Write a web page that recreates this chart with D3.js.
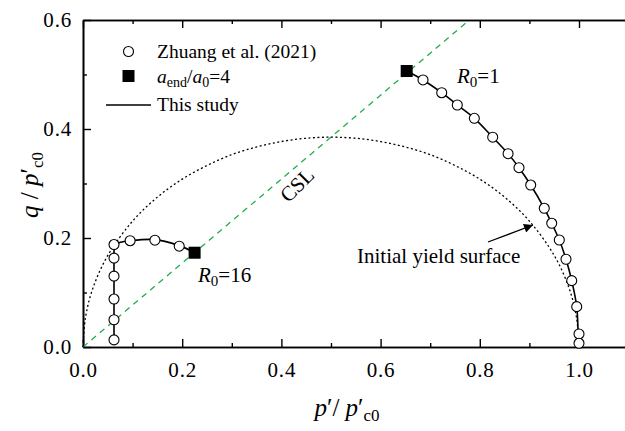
<!DOCTYPE html>
<html><head><meta charset="utf-8">
<script src="https://cdn.jsdelivr.net/npm/d3@7"></script>
<style>
body{margin:0;background:#fff;font-family:'Liberation Serif',serif;}
#c text, #c tspan{font-family:'Liberation Serif',serif;}
</style>
</head>
<body>
<svg id="c" width="625" height="431" style="display:block"></svg>
<script>
// ---- data ----
const xMajor=[0,0.2,0.4,0.6,0.8,1.0];
const xMinor=[0.1,0.3,0.5,0.7,0.9];
const yMajor=[0,0.2,0.4,0.6];
const yMinor=[0.1,0.3,0.5];
// Zhuang et al. (2021), R0=16
const expP16=[0.0625,0.0625,0.0625,0.0625,0.0625,0.0625,0.095,0.145,0.194];
const expQ16=[0.013,0.050,0.088,0.130,0.163,0.188,0.195,0.196,0.185];
// Zhuang et al. (2021), R0=1
const expP1=[0.6855,0.7232,0.7546,0.789,0.826,0.857,0.879,0.9026,0.930,0.945,0.9603,0.9738,0.9853,0.9954,1.0,1.0];
const expQ1=[0.490,0.4666,0.444,0.4196,0.385,0.3547,0.329,0.2972,0.2545,0.227,0.1963,0.161,0.1217,0.074,0.0239,0.0068];
// a_end/a0 = 4 points
const endP=[0.225,0.6526];
const endQ=[0.173,0.5064];
// This study, R0=16
const simP16=[0.0625,0.0625,0.0625,0.0625,0.063,0.066,0.075,0.095,0.145,0.194,0.225];
const simQ16=[0.013,0.06,0.12,0.16,0.180,0.188,0.192,0.195,0.197,0.186,0.173];
// This study, R0=1
const simP1=[0.6526,0.6855,0.7232,0.7546,0.789,0.826,0.857,0.879,0.9026,0.930,0.945,0.9603,0.9738,0.9853,0.9954,0.998,0.999];
const simQ1=[0.5064,0.490,0.4666,0.444,0.4196,0.385,0.3547,0.329,0.2972,0.2545,0.227,0.1963,0.161,0.1217,0.074,0.03,0.0];
// Initial yield surface
const ysP=[0,0.005,0.02,0.05,0.1,0.15,0.2,0.25,0.3,0.35,0.4,0.45,0.5,0.55,0.6,0.65,0.7,0.75,0.8,0.85,0.9,0.95,0.98,0.995,1.0];
const ysQ=[0,0.054,0.108,0.168,0.231,0.275,0.308,0.333,0.353,0.367,0.377,0.383,0.385,0.383,0.377,0.367,0.353,0.333,0.308,0.275,0.231,0.168,0.108,0.054,0];
// CSL
const cslP=[0,0.779];
const cslQ=[0,0.6];

// ---- chart ----
const FONT="'Liberation Serif', serif";
const svg=d3.select("#c");
const x=d3.scaleLinear().domain([0,1.1]).range([83,628.6]);
const y=d3.scaleLinear().domain([0,0.6]).range([347,20]);
const zip=(a,b)=>a.map((v,i)=>[v,b[i]]);
const line=d3.line().x(d=>x(d[0])).y(d=>y(d[1]));

function styleAxis(g){
  g.attr("font-family",null);
  g.selectAll(".domain").attr("stroke","#000").attr("stroke-width",1.6);
  g.selectAll(".tick line").attr("stroke","#000").attr("stroke-width",1.4);
  g.selectAll("text").style("font-family",FONT).attr("font-size",21).attr("letter-spacing","0.8px").attr("fill","#000");
}
// bottom
let g=svg.append("g").attr("transform","translate(0,347)")
  .call(d3.axisBottom(x).tickValues(xMajor).tickSize(-8).tickSizeOuter(0).tickPadding(15).tickFormat(d3.format(".1f")));
styleAxis(g);
g=svg.append("g").attr("transform","translate(0,347)")
  .call(d3.axisBottom(x).tickValues(xMinor).tickSize(-4).tickSizeOuter(0).tickFormat(""));
styleAxis(g);
// top
g=svg.append("g").attr("transform","translate(0,20)")
  .call(d3.axisTop(x).tickValues(xMajor).tickSize(-8).tickSizeOuter(0).tickFormat(""));
styleAxis(g);
g=svg.append("g").attr("transform","translate(0,20)")
  .call(d3.axisTop(x).tickValues(xMinor).tickSize(-4).tickSizeOuter(0).tickFormat(""));
styleAxis(g);
// left
g=svg.append("g").attr("transform","translate(83,0)")
  .call(d3.axisLeft(y).tickValues(yMajor).tickSize(-8).tickSizeOuter(0).tickPadding(11).tickFormat(d3.format(".1f")));
styleAxis(g);
g=svg.append("g").attr("transform","translate(83,0)")
  .call(d3.axisLeft(y).tickValues(yMinor).tickSize(-4).tickSizeOuter(0).tickFormat(""));
styleAxis(g);

// CSL
svg.append("path").attr("d",line(zip(cslP,cslQ))).attr("fill","none")
  .attr("stroke","#1fae4a").attr("stroke-width",1.3).attr("stroke-dasharray","6,5");
// yield surface
svg.append("path").attr("d",line.curve(d3.curveCatmullRom)(zip(ysP,ysQ))).attr("fill","none")
  .attr("stroke","#000").attr("stroke-width",1.3).attr("stroke-dasharray","2,2.5");
// simulations
const simLine=d3.line().x(d=>x(d[0])).y(d=>y(d[1])).curve(d3.curveCatmullRom);
[zip(simP16,simQ16),zip(simP1,simQ1)].forEach(d=>{
  svg.append("path").attr("d",simLine(d)).attr("fill","none").attr("stroke","#000").attr("stroke-width",1.6);
});
// experimental circles
svg.append("g").selectAll("circle").data(zip(expP16,expQ16).concat(zip(expP1,expQ1))).join("circle")
  .attr("cx",d=>x(d[0])).attr("cy",d=>y(d[1])).attr("r",5)
  .attr("fill","#fff").attr("stroke","#000").attr("stroke-width",1.1);
// end squares
svg.append("g").selectAll("rect").data(zip(endP,endQ)).join("rect")
  .attr("x",d=>x(d[0])-6).attr("y",d=>y(d[1])-6).attr("width",12).attr("height",12).attr("fill","#000");

// arrow
svg.append("defs").append("marker").attr("id","ah").attr("viewBox","0 0 10 10").attr("refX",10).attr("refY",5)
  .attr("markerWidth",13).attr("markerHeight",9).attr("markerUnits","userSpaceOnUse").attr("orient","auto")
  .append("path").attr("d","M0,0L10,5L0,10Z").attr("fill","#000");
svg.append("line").attr("x1",488).attr("y1",242).attr("x2",533).attr("y2",225)
  .attr("stroke","#000").attr("stroke-width",1.3).attr("marker-end","url(#ah)");

// annotations
function rich(t,parts){
  t.style("font-family",FONT).attr("fill","#000");
  parts.forEach(p=>{
    const s=t.append("tspan").text(p.t);
    if(p.i) s.attr("font-style","italic");
    if(p.fs) s.attr("font-size",p.fs);
    if(p.dy) s.attr("dy",p.dy);
  });
  return t;
}
const ann=svg.append("g").attr("font-size",21).attr("fill","#000");
ann.append("text").style("font-family",FONT).attr("x",357).attr("y",263).text("Initial yield surface");
ann.append("text").style("font-family",FONT).attr("transform","translate(302,190) rotate(-45)").attr("text-anchor","middle").text("CSL");
rich(ann.append("text").attr("x",198).attr("y",282),[{t:"R",i:1},{t:"0",fs:15,dy:4},{t:"=16",dy:-4}]);
rich(ann.append("text").attr("x",457).attr("y",83),[{t:"R",i:1},{t:"0",fs:15,dy:4},{t:"=1",dy:-4}]);

// legend
const lg=svg.append("g").attr("font-size",19.5);
lg.append("circle").attr("cx",128.5).attr("cy",51.5).attr("r",5).attr("fill","#fff").attr("stroke","#000").attr("stroke-width",1.1);
lg.append("text").style("font-family",FONT).attr("x",157).attr("y",58).text("Zhuang et al. (2021)");
lg.append("rect").attr("x",122.5).attr("y",70).attr("width",12).attr("height",12).attr("fill","#000");
rich(lg.append("text").attr("x",157).attr("y",83),[{t:"a",i:1},{t:"end",fs:14,dy:4},{t:"/",dy:-4},{t:"a",i:1},{t:"0",fs:14,dy:4},{t:"=4",dy:-4}]);
lg.append("line").attr("x1",106).attr("x2",151).attr("y1",105).attr("y2",105).attr("stroke","#000").attr("stroke-width",1.6);
lg.append("text").style("font-family",FONT).attr("x",157).attr("y",111).text("This study");

// axis titles
rich(svg.append("text").attr("font-size",25).attr("text-anchor","middle").attr("transform","translate(38,185) rotate(-90)"),
  [{t:"q",i:1},{t:" / "},{t:"p",i:1},{t:"′"},{t:"c0",fs:17,dy:5}]);
rich(svg.append("text").attr("font-size",25).attr("text-anchor","middle").attr("x",347).attr("y",416),
  [{t:"p",i:1},{t:"′/ "},{t:"p",i:1},{t:"′"},{t:"c0",fs:17,dy:5}]);
</script></body></html>
